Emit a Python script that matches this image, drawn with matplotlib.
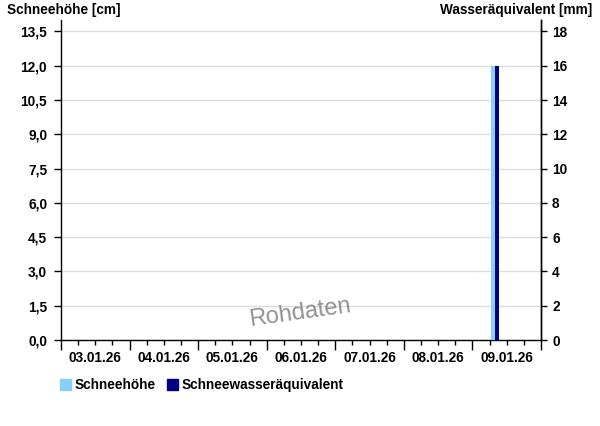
import datetime as dt

import matplotlib
matplotlib.use('Agg')
import matplotlib.dates as mdates
import matplotlib.pyplot as plt
from matplotlib.patches import Rectangle

plt.rcParams['font.family'] = ['Liberation Sans', 'DejaVu Sans']
plt.rcParams['font.weight'] = 'bold'

# data
times = [dt.datetime(2026, 1, 9, 7, 45)]
schneehoehe = [12.0]            # cm
wasseraequivalent = [16.0]      # mm
day_labels = ['03.01.26', '04.01.26', '05.01.26', '06.01.26',
              '07.01.26', '08.01.26', '09.01.26']
left_ticks = [0.0, 1.5, 3.0, 4.5, 6.0, 7.5, 9.0, 10.5, 12.0, 13.5]
right_ticks = [0, 2, 4, 6, 8, 10, 12, 14, 16, 18]

c_hs = '#87cefa'
c_swe = '#000080'
fs = 9.8

fig = plt.figure(figsize=(6, 4.26), dpi=100)
ax = fig.add_axes([61 / 600, 86 / 426, 480 / 600, 320 / 426])
ax2 = ax.twinx()

start = dt.datetime(2026, 1, 3)
end = dt.datetime(2026, 1, 10)

ax.bar(times, schneehoehe, width=-0.045, align='edge', color=c_hs,
       linewidth=0, zorder=3)
ax2.bar(times, wasseraequivalent, width=0.058, align='edge', color=c_swe,
        linewidth=0, zorder=3)

ax.set_xlim(start, end)
ax.set_ylim(0, 14)
ax2.set_ylim(0, 14 * 4 / 3)

ax.set_yticks(left_ticks)
ax.set_yticklabels([f'{v:.1f}'.replace('.', ',') for v in left_ticks])
ax2.set_yticks(right_ticks)
ax2.set_yticklabels([str(v) for v in right_ticks])

ax.grid(axis='y', color='#dddddd', linewidth=1, zorder=0)
ax.set_axisbelow(True)

# x ticks: days major, 6h minor, labels at noon
ax.xaxis.set_major_locator(mdates.DayLocator())
ax.xaxis.set_minor_locator(mdates.HourLocator(byhour=[6, 12, 18]))
ax.xaxis.set_major_formatter(plt.NullFormatter())
for i, lab in enumerate(day_labels):
    x = mdates.date2num(start + dt.timedelta(days=i, hours=12))
    ax.text(x, -0.033, lab, transform=ax.get_xaxis_transform(),
            ha='center', va='top', fontsize=fs, fontweight='bold')

ax.tick_params(axis='x', which='major', length=7, width=1, color='black')
ax.tick_params(axis='x', which='minor', length=3.5, width=1, color='black')
ax.tick_params(axis='y', length=5, width=1, labelsize=fs, pad=5)
ax2.tick_params(axis='y', length=4, width=1, labelsize=fs, pad=4)

for a in (ax, ax2):
    a.spines['top'].set_visible(False)
    for s in a.spines.values():
        s.set_linewidth(1)
ax2.spines['left'].set_visible(False)
ax2.spines['bottom'].set_visible(False)

fig.text(7 / 600, 1 - 10 / 426, 'Schneehöhe [cm]', ha='left', va='center',
         fontsize=fs, fontweight='bold')
fig.text(592 / 600, 1 - 10 / 426, 'Wasseräquivalent [mm]', ha='right',
         va='center', fontsize=fs, fontweight='bold')

# watermark
fig.text(300 / 600, 1 - 313 / 426, 'Rohdaten', ha='center', va='center',
         fontsize=17, fontweight='normal', color='#777777', rotation=8,
         alpha=0.8)

# legend
ly = 1 - 385 / 426
fig.patches.append(Rectangle((60 / 600, ly - 5 / 426), 11 / 600, 11 / 426,
                             transform=fig.transFigure, color=c_hs))
fig.text(75 / 600, ly, 'Schneehöhe', ha='left', va='center',
         fontsize=fs, fontweight='bold')
fig.patches.append(Rectangle((167 / 600, ly - 5 / 426), 11 / 600, 11 / 426,
                             transform=fig.transFigure, color=c_swe))
fig.text(182 / 600, ly, 'Schneewasseräquivalent', ha='left', va='center',
         fontsize=fs, fontweight='bold')

fig.savefig('out.png', dpi=100)
